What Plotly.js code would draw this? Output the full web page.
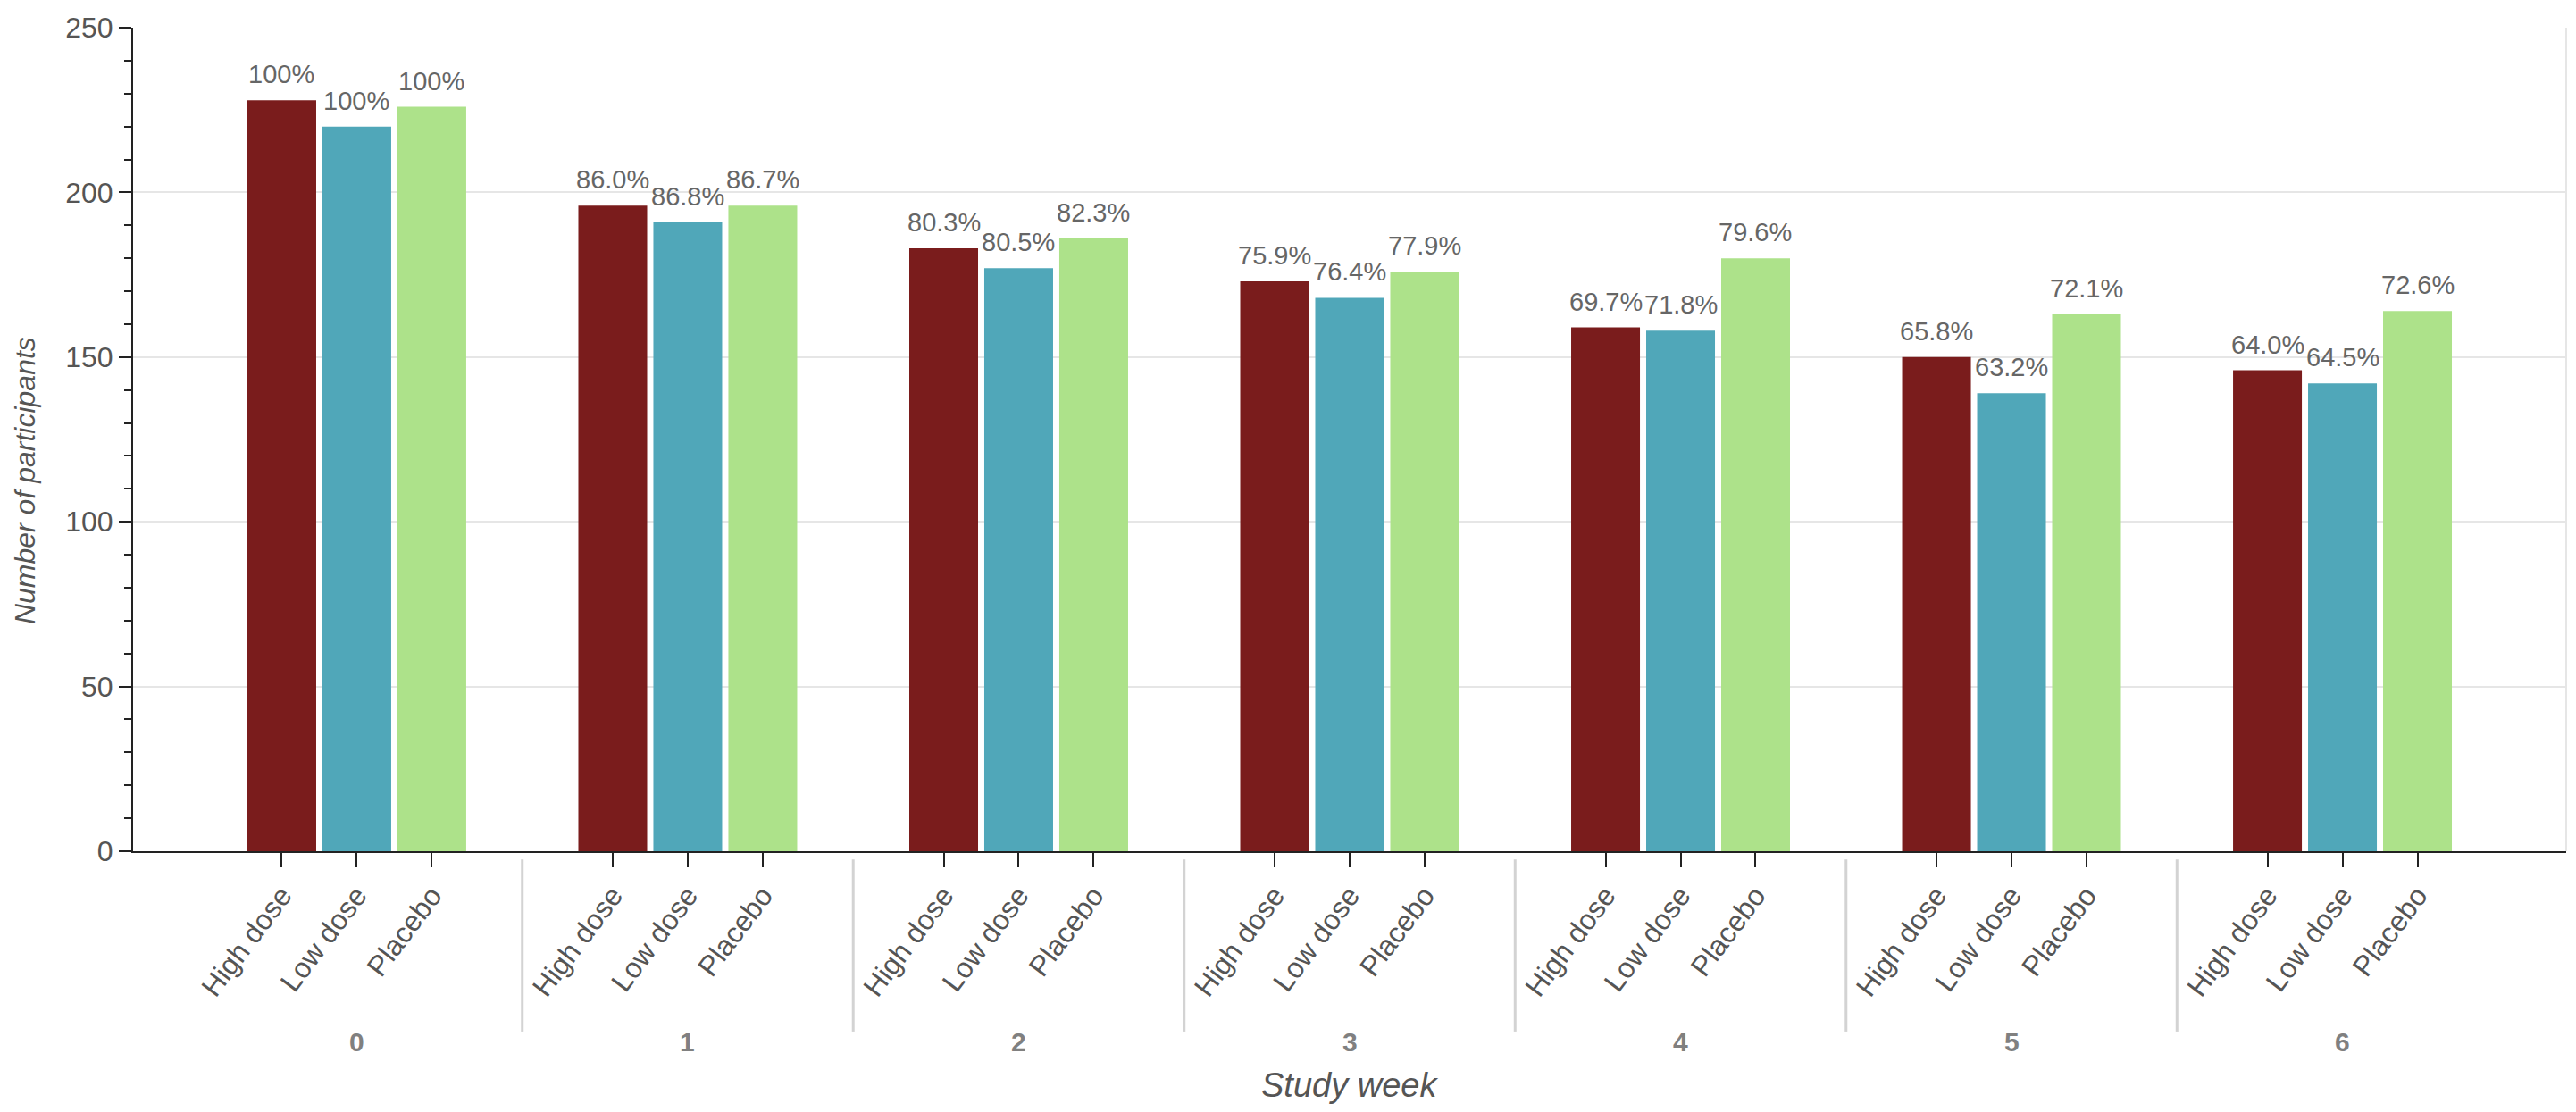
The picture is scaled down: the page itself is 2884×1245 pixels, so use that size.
<!DOCTYPE html>
<html>
<head>
<meta charset="utf-8">
<script src="https://cdn.plot.ly/plotly-3.0.1.min.js"></script>
<style>
  html, body { margin: 0; padding: 0; background: #ffffff; }
  #chart { width: 2884px; height: 1245px; }
</style>
</head>
<body>
<div id="chart"></div>
<script>
// ---- data ----
const weeks = [0, 1, 2, 3, 4, 5, 6];
const treatments = ["High dose", "Low dose", "Placebo"];
const highDose = [228, 196, 183, 173, 159, 150, 146];
const lowDose  = [220, 191, 177, 168, 158, 139, 142];
const placebo  = [226, 196, 186, 176, 180, 163, 164];
const colors = ["#7a1c1c", "#50a7b9", "#ade28a"];
const yTickVals = [0, 50, 100, 150, 200, 250];

const series = [highDose, lowDose, placebo];
const FONT = "Liberation Sans, Arial, sans-serif";
const bargap = 0.32;
const slot = (1 - bargap) / treatments.length;
const offsetOf = j => (j - (treatments.length - 1) / 2) * slot;

function pctLabels(vals) {
  return vals.map(v => {
    const p = v / vals[0] * 100;
    return Math.abs(p - 100) < 1e-9 ? "100%" : p.toFixed(1) + "%";
  });
}

const traces = series.map((vals, i) => ({
  type: "bar",
  name: treatments[i],
  x: weeks,
  y: vals,
  marker: { color: colors[i], line: { width: 0 } },
  hoverinfo: "x+y+name"
}));

// tick positions under every bar
const tickvals = [], ticktext = [];
weeks.forEach(w => treatments.forEach((t, j) => {
  tickvals.push(w + offsetOf(j));
  ticktext.push(t);
}));

const annotations = [];
// percentage labels above the bars
series.forEach((vals, j) => {
  const labels = pctLabels(vals);
  weeks.forEach((w, k) => annotations.push({
    x: w + offsetOf(j), xref: "x", y: vals[k], yref: "y",
    text: labels[k], showarrow: false,
    xanchor: "center", yanchor: "bottom", yshift: 11,
    font: { family: FONT, size: 29, color: "#666666" }
  }));
});
// week group labels
weeks.forEach(w => annotations.push({
  x: w, xref: "x", y: -0.232, yref: "paper",
  text: "<b>" + w + "</b>", showarrow: false,
  xanchor: "center", yanchor: "middle",
  font: { family: FONT, size: 30, color: "#808080" }
}));
// axis titles
annotations.push({
  x: 0, xref: "paper", xshift: -121, y: 0.45, yref: "paper",
  text: "<i>Number of participants</i>", showarrow: false, textangle: -90,
  xanchor: "center", yanchor: "middle",
  font: { family: FONT, size: 32, color: "#555555" }
});
annotations.push({
  x: 0.5, xref: "paper", y: -0.284, yref: "paper",
  text: "<i>Study week</i>", showarrow: false,
  xanchor: "center", yanchor: "middle",
  font: { family: FONT, size: 38, color: "#555555" }
});

const shapes = weeks.slice(0, -1).map(w => ({
  type: "line", xref: "x", yref: "paper",
  x0: w + 0.5, x1: w + 0.5, y0: -0.01, y1: -0.219,
  line: { color: "#d3d3d3", width: 3 }
}));
shapes.push({
  type: "line", xref: "paper", yref: "paper",
  x0: 1, x1: 1, y0: 0, y1: 1,
  line: { color: "#e6e6e6", width: 2 }
});

const layout = {
  width: 2884, height: 1245,
  margin: { l: 149, r: 11, t: 31, b: 292 },
  paper_bgcolor: "#ffffff", plot_bgcolor: "#ffffff",
  showlegend: false,
  barmode: "group",
  bargap: bargap,
  bargroupgap: 0.083,
  font: { family: FONT, color: "#555555" },
  xaxis: {
    type: "linear",
    range: [-0.676, 6.676],
    tickmode: "array", tickvals: tickvals, ticktext: ticktext,
    tickangle: -53,
    tickfont: { family: FONT, size: 32, color: "#555555" },
    ticks: "outside", ticklen: 16, tickwidth: 2, tickcolor: "#222222",
    showline: true, linecolor: "#222222", linewidth: 2,
    showgrid: false, zeroline: false
  },
  yaxis: {
    range: [0, 250],
    tickmode: "array", tickvals: yTickVals,
    tickfont: { family: FONT, size: 32, color: "#555555" },
    ticks: "outside", ticklen: 14, tickwidth: 2, tickcolor: "#222222",
    minor: { dtick: 10, ticks: "outside", ticklen: 8, tickwidth: 2, tickcolor: "#222222", showgrid: false },
    showline: true, linecolor: "#222222", linewidth: 2,
    showgrid: true, gridcolor: "#e6e6e6", gridwidth: 2,
    zeroline: false
  },
  annotations: annotations,
  shapes: shapes
};

Plotly.newPlot("chart", traces, layout, { staticPlot: true, displayModeBar: false });
</script>
</body>
</html>
